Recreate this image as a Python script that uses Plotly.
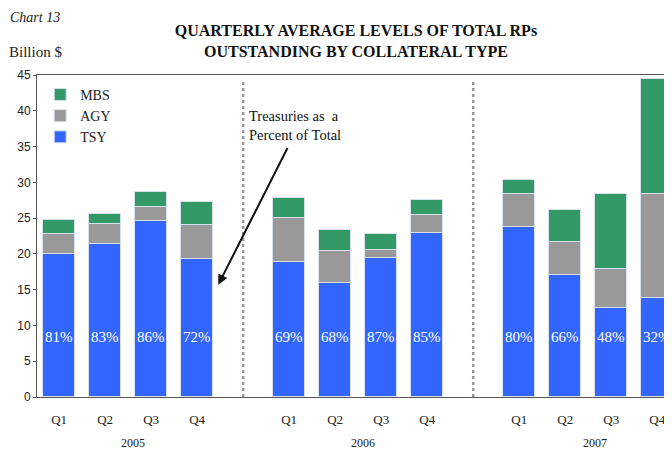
import plotly.graph_objects as go

# ---- data ----
quarters = ["Q1", "Q2", "Q3", "Q4"]
years = ["2005", "2006", "2007"]
tsy = [20.0, 21.4, 24.6, 19.3, 18.8, 15.9, 19.4, 22.9, 23.8, 17.1, 12.5, 13.8]
agy = [2.8, 2.8, 1.9, 4.7, 6.2, 4.5, 1.2, 2.5, 4.6, 4.5, 5.4, 14.6]
mbs = [2.0, 1.4, 2.2, 3.2, 2.8, 3.0, 2.2, 2.1, 1.9, 4.5, 10.5, 16.0]
pct_labels = ["81%", "83%", "86%", "72%", "69%", "68%", "87%", "85%", "80%", "66%", "48%", "32%"]

# slots: 4 quarters per year, with an empty slot between years
xpos = []
for yi in range(len(years)):
    for qi in range(len(quarters)):
        xpos.append(yi * 5 + qi)
xticks = xpos
xtext = quarters * len(years)
sep_pos = [4, 9]
year_pos = [1.6, 6.6, 11.65]

C_TSY = "#3366FF"
C_AGY = "#999999"
C_MBS = "#339966"
SERIF = "Liberation Serif"
SANS = "Liberation Sans"

fig = go.Figure()
line = dict(color="#d8e0ee", width=1)
fig.add_bar(x=xpos, y=tsy, name="TSY", marker=dict(color=C_TSY, line=line), width=0.7)
fig.add_bar(x=xpos, y=agy, name="AGY", marker=dict(color=C_AGY, line=line), width=0.7)
fig.add_bar(x=xpos, y=mbs, name="MBS", marker=dict(color=C_MBS, line=line), width=0.7)

for xp, lab in zip(xpos, pct_labels):
    fig.add_annotation(x=xp, y=8.4, text=lab, showarrow=False,
                       font=dict(family=SERIF, size=15, color="white"))

for yp, yr in zip(year_pos, years):
    fig.add_annotation(x=yp, y=0, yref="y", yshift=-46, text=yr, showarrow=False,
                       font=dict(family=SERIF, size=12, color="#222"))

for s in sep_pos:
    fig.add_shape(type="line", x0=s, x1=s, y0=0, y1=44.3, xref="x", yref="y",
                  line=dict(color="#999999", width=2.5, dash="dot"))

fig.add_annotation(x=4.08, y=38.0, xanchor="left", text="Treasuries as  a<br>Percent of Total",
                   showarrow=False, align="left",
                   font=dict(family=SERIF, size=14.5, color="#111"))
fig.add_annotation(x=3.46, y=15.7, ax=4.98, ay=35.0, xref="x", yref="y", axref="x", ayref="y",
                   text="", showarrow=True, arrowhead=2, arrowsize=1, arrowwidth=2, arrowcolor="#111")

fig.add_annotation(x=-0.046, y=1.18, xref="paper", yref="paper", text="<i>Chart 13</i>",
                   showarrow=False, xanchor="left", yanchor="middle",
                   font=dict(family=SERIF, size=14, color="#222"))
fig.add_annotation(x=-0.047, y=1.071, xref="paper", yref="paper", text="Billion $",
                   showarrow=False, xanchor="left", yanchor="middle",
                   font=dict(family=SERIF, size=15, color="#222"))

fig.update_layout(
    width=664, height=441,
    barmode="stack",
    bargap=0,
    plot_bgcolor="white", paper_bgcolor="white",
    margin=dict(l=29, r=0, t=67, b=52),
    title=dict(text="<b>QUARTERLY AVERAGE LEVELS OF TOTAL RPs<br>OUTSTANDING BY COLLATERAL TYPE</b>",
               x=0.524, xanchor="center", y=0.937, yanchor="middle",
               font=dict(family=SERIF, size=16, color="#111")),
    showlegend=True,
    legend=dict(x=0.005, y=0.988, xanchor="left", yanchor="top", traceorder="reversed",
                font=dict(family=SERIF, size=14, color="#222"), bgcolor="rgba(0,0,0,0)",
                itemwidth=30),
    xaxis=dict(range=[-0.48, 13.32], tickvals=xticks, ticktext=xtext, showgrid=False,
               zeroline=False, showline=True, linecolor="#555", linewidth=1, ticks="",
               tickfont=dict(family=SERIF, size=13, color="#222"), ticklabelstandoff=10,
               mirror=True, automargin=False),
    yaxis=dict(range=[0, 45], dtick=5, showgrid=False, zeroline=False, showline=True,
               linecolor="#555", linewidth=1, ticks="outside", ticklen=3, tickcolor="#555",
               tickfont=dict(family=SANS, size=12, color="#222"), mirror=False,
               automargin=False),
)

fig.write_html("out.html")
